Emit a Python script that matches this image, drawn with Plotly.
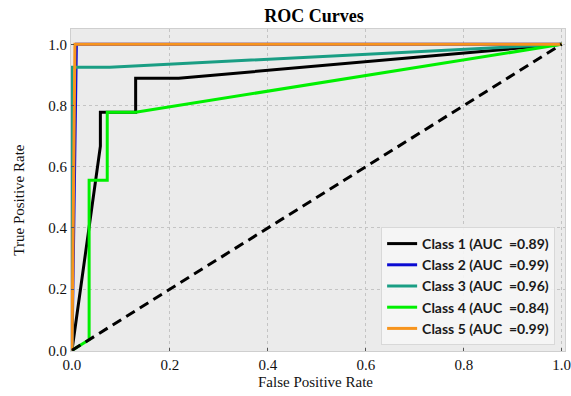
import plotly.graph_objects as go

# ROC curve points (false positive rate, true positive rate) per class
class1_fpr = [0.0, 0.058, 0.058, 0.13, 0.13, 0.218, 1.0]
class1_tpr = [0.0, 0.667, 0.778, 0.778, 0.889, 0.889, 1.0]

class2_fpr = [0.0, 0.009, 1.0]
class2_tpr = [0.0, 1.0, 1.0]

class3_fpr = [0.0, 0.0, 0.077, 1.0]
class3_tpr = [0.0, 0.925, 0.925, 1.0]

class4_fpr = [0.0, 0.035, 0.035, 0.072, 0.072, 0.13, 1.0]
class4_tpr = [0.0, 0.035, 0.556, 0.556, 0.778, 0.778, 1.0]

class5_fpr = [0.0, 0.006, 1.0]
class5_tpr = [0.0, 1.0, 1.0]

class_names = ["Class 1", "Class 2", "Class 3", "Class 4", "Class 5"]
auc_values = [0.89, 0.99, 0.96, 0.84, 0.99]
line_colors = ["#000000", "#0a0ad2", "#1a9e84", "#00f000", "#f7941d"]

chance_x = [0.0, 1.0]
chance_y = [0.0, 1.0]

x_ticks = [0.0, 0.2, 0.4, 0.6, 0.8, 1.0]
y_ticks = [0.0, 0.2, 0.4, 0.6, 0.8, 1.0]

curves = [
    (class1_fpr, class1_tpr),
    (class2_fpr, class2_tpr),
    (class3_fpr, class3_tpr),
    (class4_fpr, class4_tpr),
    (class5_fpr, class5_tpr),
]

fig = go.Figure()
for (fpr, tpr), name, auc, color in zip(curves, class_names, auc_values, line_colors):
    fig.add_trace(go.Scatter(
        x=fpr, y=tpr, mode="lines",
        name=f"{name} (AUC  ={auc:.2f})",
        line=dict(color=color, width=3),
    ))

# chance diagonal
fig.add_trace(go.Scatter(
    x=chance_x, y=chance_y, mode="lines", showlegend=False,
    line=dict(color="#000000", width=3, dash="10px,6px"),
))

serif = "Liberation Serif, Times New Roman, serif"
axis_common = dict(
    showgrid=True, gridcolor="#c4c4c4", gridwidth=1, griddash="dot",
    zeroline=False, showline=True, linecolor="#cfcfcf", linewidth=1, mirror=True,
    ticks="inside", ticklen=3, tickcolor="#555555",
    tickfont=dict(family=serif, size=15, color="#111111"),
    tickformat=".1f", ticklabeloverflow="allow",
)

fig.update_layout(
    width=571, height=396,
    margin=dict(l=71, r=0, t=29, b=45),
    paper_bgcolor="#ffffff",
    plot_bgcolor="#ebebeb",
    title=dict(
        text="<b>ROC Curves</b>",
        font=dict(family=serif, size=18, color="#000000"),
        x=314 / 571, xanchor="center", xref="container",
        y=1 - 16 / 396, yanchor="middle", yref="container",
    ),
    xaxis=dict(range=[-0.002, 1.0067], tickvals=x_ticks, **axis_common),
    yaxis=dict(range=[-0.002, 1.05], tickvals=y_ticks, **axis_common),
    legend=dict(
        x=(561 - 71) / 500, xanchor="right",
        y=(351 - 345) / 322, yanchor="bottom",
        bgcolor="rgba(246,246,246,0.9)", bordercolor="#d8d8d8", borderwidth=1,
        font=dict(family="Lato, sans-serif", size=14, color="#1a1a1a", weight="bold"),
        tracegroupgap=0,
    ),
    showlegend=True,
)

fig.add_annotation(
    text="False Positive Rate", xref="paper", yref="paper",
    x=(318 - 71) / 500, y=-(382 - 351) / 322, xanchor="center", yanchor="middle",
    showarrow=False, font=dict(family=serif, size=15, color="#111111"),
)
fig.add_annotation(
    text="True Positive Rate", xref="paper", yref="paper", textangle=-90,
    x=-(71 - 18) / 500, y=(351 - 200) / 322, xanchor="center", yanchor="middle",
    showarrow=False, font=dict(family=serif, size=15, color="#111111"),
)

fig.write_html("out.html")
